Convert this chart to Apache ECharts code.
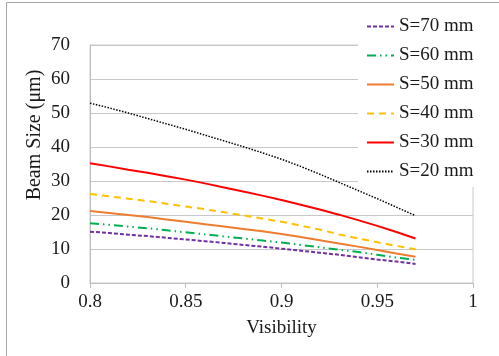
<!DOCTYPE html>
<html>
<head>
<meta charset="utf-8">
<script src="https://cdn.jsdelivr.net/npm/echarts@6/dist/echarts.min.js"></script>
<style>
html,body{margin:0;padding:0;background:#fff;}
#chart{width:499px;height:356px;}
</style>
</head>
<body>
<div id="chart"></div>
<script>
var visibility = [0.80,0.81,0.82,0.83,0.84,0.85,0.86,0.87,0.88,0.89,0.90,0.91,0.92,0.93,0.94,0.95,0.96,0.97];
var s70 = [15.1,14.7,14.2,13.8,13.3,12.8,12.3,11.8,11.2,10.7,10.1,9.5,8.9,8.3,7.6,6.9,6.3,5.6];
var s60 = [17.6,17.1,16.6,16.1,15.5,14.9,14.3,13.7,13.1,12.5,11.9,11.2,10.5,9.8,9.1,8.3,7.5,6.8];
var s50 = [21.2,20.6,20.0,19.4,18.7,18.0,17.3,16.6,15.9,15.2,14.4,13.5,12.6,11.6,10.7,9.7,8.7,7.7];
var s40 = [26.2,25.5,24.8,24.1,23.3,22.5,21.7,20.8,19.9,19.0,18.0,16.9,15.7,14.3,13.1,12.0,10.9,9.9];
var s30 = [35.2,34.3,33.3,32.4,31.4,30.4,29.3,28.1,26.9,25.7,24.4,23.0,21.6,20.1,18.5,16.8,15.0,13.1];
var s20 = [52.9,51.5,50.0,48.4,46.8,45.2,43.5,41.8,40.1,38.3,36.4,34.3,32.0,29.6,27.2,24.8,22.3,19.8];
var seriesNames = ['S=70 mm','S=60 mm','S=50 mm','S=40 mm','S=30 mm','S=20 mm'];
var xTicks = [0.8,0.85,0.9,0.95,1];
var yTicks = [0,10,20,30,40,50,60,70];

function pairs(ys){ return visibility.map(function(v,i){ return [v, ys[i]]; }); }

var styles = [
  {color:'#7030A0', width:2, type:[4,2]},
  {color:'#00B050', width:2, type:[9,4,1.5,4,1.5,4]},
  {color:'#ED7D31', width:2, type:'solid'},
  {color:'#FFC000', width:2, type:[7,5]},
  {color:'#FF0000', width:2, type:'solid'},
  {color:'#000000', width:1.5, type:[1.5,1.5]}
];
var allData = [s70,s60,s50,s40,s30,s20];

var font = "'Liberation Serif', 'Times New Roman', serif";
var chart = echarts.init(document.getElementById('chart'), null, {renderer:'canvas'});
chart.setOption({
  animation:false,
  backgroundColor:'#fff',
  graphic:[{type:'rect', shape:{x:6.5,y:2.5,width:520,height:400}, style:{fill:'none', stroke:'#a6a6a6', lineWidth:1}, z:-10}],
  grid:{left:90, right:26, top:45, bottom:73, show:true, borderColor:'#c8c8c8', borderWidth:1, backgroundColor:'transparent'},
  legend:{
    orient:'vertical', left:358, top:13, padding:[4,10,6,8],
    backgroundColor:'#fff', itemWidth:27, itemHeight:14, itemGap:10,
    itemStyle:{opacity:0},
    textStyle:{fontFamily:font, fontSize:19, color:'#1a1a1a', lineHeight:19},
    data:seriesNames, z:10
  },
  xAxis:{
    type:'value', min:0.8, max:1, interval:0.05,
    name:'Visibility', nameLocation:'middle', nameGap:36,
    nameTextStyle:{fontFamily:font, fontSize:19, color:'#1a1a1a'},
    axisLine:{show:true, lineStyle:{color:'#bfbfbf'}},
    axisTick:{show:true, length:5, lineStyle:{color:'#bfbfbf'}},
    splitLine:{show:false},
    axisLabel:{fontFamily:font, fontSize:19, color:'#1a1a1a', margin:10,
      formatter:function(v){ var r=Math.round(v*100)/100; return xTicks.indexOf(r)>=0 ? String(r) : ''; }}
  },
  yAxis:{
    type:'value', min:0, max:70, interval:10,
    name:'Beam Size (μm)', nameLocation:'middle', nameGap:45, nameMoveOverlap:false,
    nameTextStyle:{fontFamily:font, fontSize:20, color:'#1a1a1a', padding:[0,0,0,58]},
    axisLine:{show:true, lineStyle:{color:'#bfbfbf'}},
    axisTick:{show:false},
    splitLine:{show:true, lineStyle:{color:'#c8c8c8', width:1}},
    axisLabel:{fontFamily:font, fontSize:19, color:'#1a1a1a', margin:20,
      formatter:function(v){ return yTicks.indexOf(v)>=0 ? String(v) : ''; }}
  },
  series: allData.map(function(d,i){
    return {
      name:seriesNames[i], type:'line', data:pairs(d), symbol:'none', smooth:false,
      lineStyle:{color:styles[i].color, width:styles[i].width, type:styles[i].type},
      itemStyle:{color:styles[i].color}, z:2+i
    };
  })
});
</script>
</body>
</html>
